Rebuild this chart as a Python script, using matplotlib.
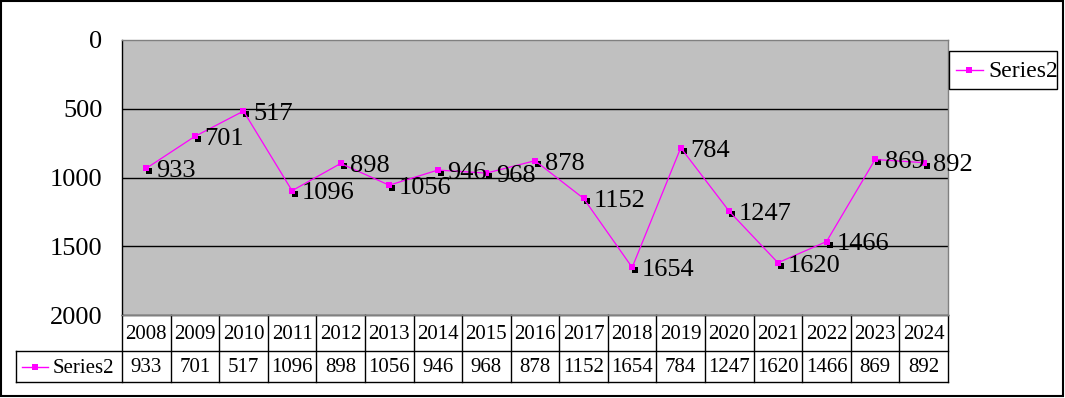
import numpy as np
import matplotlib
matplotlib.use("Agg")
import matplotlib.pyplot as plt
from matplotlib.patches import Rectangle
from matplotlib.lines import Line2D
from matplotlib.transforms import ScaledTranslation, blended_transform_factory

plt.rcParams['font.family'] = ['Liberation Serif', 'DejaVu Serif']

years = ['2008', '2009', '2010', '2011', '2012', '2013', '2014', '2015', '2016',
         '2017', '2018', '2019', '2020', '2021', '2022', '2023', '2024']
values = [933, 701, 517, 1096, 898, 1056, 946, 968, 878,
          1152, 1654, 784, 1247, 1620, 1466, 869, 892]
series_name = 'Series2'
yticks = [0, 500, 1000, 1500, 2000]

W, H = 1065, 398
fig = plt.figure(figsize=(W / 100, H / 100), dpi=100)


def fx(px):
    return px / W


def fy(py):
    return 1 - py / H


# plot area in pixels
L, R, T, B = 122, 948, 40, 315
ax = fig.add_axes([fx(L), fy(B), fx(R - L), (B - T) / H])
ax.set_facecolor('#c0c0c0')
x = np.arange(len(years))

ax.set_xlim(-0.5, len(years) - 0.5)
ax.set_ylim(2000, 0)
ax.set_yticks(yticks)
ax.set_yticklabels([str(t) for t in yticks], fontsize=19)
ax.set_xticks([])
ax.tick_params(axis='y', length=0, pad=14)
for t in yticks[1:-1]:
    ax.axhline(t, color='black', lw=1.0, zorder=1)
for s in ['top', 'right', 'bottom']:
    ax.spines[s].set_color('#808080')
    ax.spines[s].set_linewidth(1.0)
ax.spines['left'].set_color('black')
ax.spines['left'].set_linewidth(1.0)

# shadow under markers
shadow = ax.transData + ScaledTranslation(3 / 100, -3 / 100, fig.dpi_scale_trans)
ax.plot(x, values, ls='none', marker='s', ms=3.8, color='black', mew=0,
        transform=shadow, zorder=3)
ax.plot(x, values, color='#ff00ff', lw=0.9, marker='s', ms=4.6, mew=0, zorder=4)

for xi, v in zip(x, values):
    ax.annotate(str(v), (xi, v), xytext=(7, -2), textcoords='offset points',
                fontsize=19, va='center', ha='left', zorder=5,
                annotation_clip=False)

# data table below the plot
tr = blended_transform_factory(ax.transData, fig.transFigure)
col_w = (R - L) / len(years)
left_x = -0.5 - (L - 16) / col_w
right_x = len(years) - 0.5
y0, y1, y2 = fy(315), fy(351), fy(382)
lk = dict(color='black', lw=1.0, transform=tr, clip_on=False)
ax.plot([-0.5, right_x], [y0, y0], **lk)
ax.plot([left_x, right_x], [y1, y1], **lk)
ax.plot([left_x, right_x], [y2, y2], **lk)
ax.plot([left_x, left_x], [y1, y2], **lk)
for i in range(len(years) + 1):
    xe = i - 0.5
    ax.plot([xe, xe], [y0, y2], **lk)
for xi, yr, v in zip(x, years, values):
    ax.text(xi, (y0 + y1) / 2 - 0.003, yr, transform=tr, ha='center',
            va='center', fontsize=15, clip_on=False)
    ax.text(xi, (y1 + y2) / 2 - 0.003, str(v), transform=tr, ha='center',
            va='center', fontsize=15, clip_on=False)
# legend key inside the table
kx0, kx1 = fx(22), fx(48)
ky = fy(367)
fig.add_artist(Line2D([kx0, kx1], [ky, ky], color='#ff00ff', lw=1,
                      transform=fig.transFigure))
fig.add_artist(Line2D([fx(35)], [ky], marker='s', ms=5, color='#ff00ff',
                      mew=0, transform=fig.transFigure))
fig.text(fx(53), ky - 0.003, series_name, ha='left', va='center', fontsize=15)

# legend at right, drawn by hand to fit the box
fig.patches.append(Rectangle((fx(949), fy(89)), fx(1057 - 949), (89 - 51) / H,
                             transform=fig.transFigure, fill=False,
                             edgecolor='black', lw=1.0))
ly = fy(70)
fig.add_artist(Line2D([fx(956), fx(983)], [ly, ly], color='#ff00ff', lw=1,
                      transform=fig.transFigure))
fig.add_artist(Line2D([fx(969)], [ly], marker='s', ms=5, color='#ff00ff',
                      mew=0, transform=fig.transFigure))
fig.text(fx(988), ly - 0.004, series_name, ha='left', va='center', fontsize=17)

# outer chart border
fig.patches.append(Rectangle((fx(1), fy(396)), fx(1062), (395) / H,
                             transform=fig.transFigure, fill=False,
                             edgecolor='black', lw=1.5))

fig.savefig('out.png', dpi=100)
